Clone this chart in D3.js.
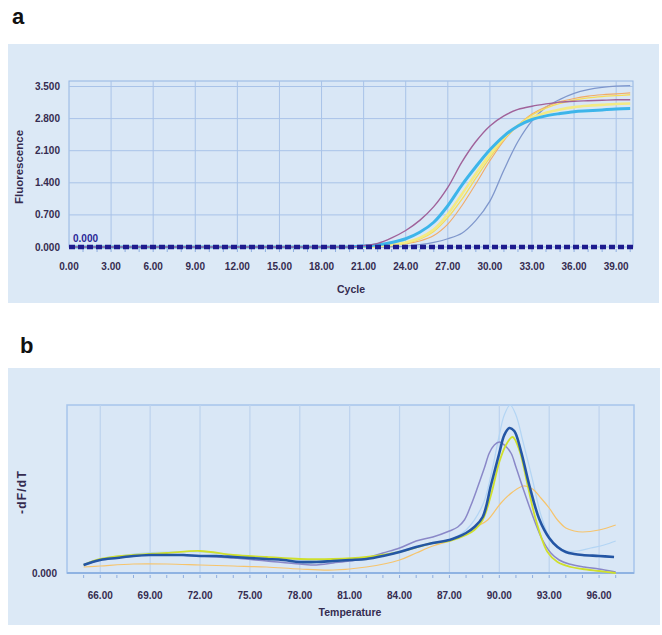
<!DOCTYPE html>
<html><head><meta charset="utf-8">
<script src="https://cdn.jsdelivr.net/npm/d3@7"></script>
<style>body{margin:0;background:#fff}svg{display:block}</style>
</head><body>
<script>
// ---------- Panel a: amplification curves ----------
const cycles = d3.range(0, 41);
const zeros21 = d3.range(21).map(() => 0);
const ampPurple   = zeros21.concat([0.03,0.08,0.20,0.36,0.58,0.88,1.30,1.85,2.30,2.64,2.86,3.00,3.07,3.12,3.16,3.18,3.19,3.20,3.21,3.21]);
const ampCyan     = zeros21.concat([0.02,0.05,0.10,0.18,0.32,0.54,0.90,1.35,1.75,2.12,2.42,2.64,2.78,2.86,2.91,2.95,2.97,2.99,3.01,3.02]);
const ampYellow   = zeros21.concat([0.01,0.02,0.05,0.10,0.20,0.38,0.72,1.15,1.60,2.02,2.38,2.65,2.82,2.93,3.00,3.05,3.08,3.10,3.12,3.13]);
const ampYellow2  = zeros21.concat([0.00,0.01,0.04,0.08,0.17,0.34,0.64,1.04,1.50,1.95,2.35,2.66,2.88,3.03,3.13,3.20,3.25,3.28,3.30,3.32]);
const ampOrange   = zeros21.concat([0.00,0.01,0.03,0.07,0.13,0.25,0.50,0.90,1.38,1.88,2.32,2.65,2.90,3.06,3.17,3.24,3.29,3.32,3.34,3.36]);
const ampBlueGray = zeros21.concat([0.00,0.005,0.01,0.02,0.05,0.10,0.18,0.30,0.58,1.00,1.68,2.30,2.75,3.05,3.22,3.35,3.43,3.48,3.51,3.52]);
const cycleTicks = [0,3,6,9,12,15,18,21,24,27,30,33,36,39];
const fluorTicks = [0,0.7,1.4,2.1,2.8,3.5];
const threshold = 0;

// ---------- Panel b: melt curves (-dF/dT, arbitrary units) ----------
const meltDarkBlueT = [65,66,67,68,69,70,71,72,73,74,75,76,77,78,79,80,81,82,83,84,85,86,87,87.5,88,88.5,89,89.5,90,90.3,90.6,90.9,91.3,91.8,92.4,93,93.5,94,94.5,95,96,96.9];
const meltDarkBlueV = [8,13,15,17,18,18,18,17,17,16,15,14,13,11,11,12,13,14,17,21,26,30,33,36,40,46,56,88,120,138,145,142,122,88,54,35,26,21,19,18,17,16];
const meltLightBlueT = [65,66,68,70,72,74,76,78,80,82,84,86,87,88,89,89.5,90,90.3,90.65,91,91.4,92,92.5,93,93.5,94,94.7,95.5,96.3,97];
const meltLightBlueV = [9,14,19,21,21,18,15,13,13,15,22,30,33,43,68,98,138,158,168,158,133,93,58,36,26,22,22,25,28,32];
const meltPurpleT = [65,66,68,70,72,74,76,78,79,80,81,82,83,84,85,86,87,87.5,87.9,88.3,88.7,89.1,89.4,89.7,90.0,90.3,90.7,91.0,91.4,92.1,92.6,93.1,93.6,94.2,95.1,96,97];
const meltPurpleV = [8,13,17,18,17,15,12,9,8,10,12,15,20,25,32,36,42,46,53,68,86,105,120,128,131,128,120,106,86,53,33,20,13,9,6,4,1];
const meltGreenT = [65,66,68,70,72,74,76,78,80,82,84,86,87,88,88.5,89,89.5,90,90.4,90.8,91.2,91.7,92.2,92.9,93.5,94.3,95,96,97];
const meltGreenV = [8,14,18,20,22,18,16,14,14,16,21,30,32,38,43,53,78,111,128,136,123,88,53,21,11,6,4,2,0];
const meltOrangeT = [65,66,68,70,72,74,76,78,80,82,84,85,86,87,88,88.7,89.3,90.1,90.8,91.45,92,92.5,93,93.5,94,94.5,95,96,97];
const meltOrangeV = [6,7,9,9,8,7,6,4,3,6,13,20,27,32,40,47,53,70,81,87,84,75,65,53,45,42,41,43,48];
const tempTicks = [66,69,72,75,78,81,84,87,90,93,96];
const minorTemp = d3.range(65, 98);

const W = 662, H = 635;
const svg = d3.select("body").append("svg").attr("width", W).attr("height", H);
const font = "'Liberation Sans', Arial, sans-serif";
const tickColor = "#352c50";
const gridColor = "#a9c3e8";
const borderColor = "#93b5e2";

// panel backgrounds
svg.append("rect").attr("x", 8).attr("y", 44).attr("width", 651).attr("height", 259).attr("fill", "#dce9f6");
svg.append("rect").attr("x", 8).attr("y", 368).attr("width", 652).attr("height", 257).attr("fill", "#dce9f6");

svg.append("text").attr("x", 12).attr("y", 24).attr("font-family", font).attr("font-weight", "bold")
  .attr("font-size", 22).attr("fill", "#111").text("a");
svg.append("text").attr("x", 20).attr("y", 353).attr("font-family", font).attr("font-weight", "bold")
  .attr("font-size", 22).attr("fill", "#111").text("b");

// ===== Panel a =====
const xA = d3.scaleLinear().domain([0, 40.2]).range([69, 633]);
const yA = d3.scaleLinear().domain([0, 3.62]).range([247, 81]);
const gA = svg.append("g");
gA.append("rect").attr("x", xA(0)).attr("y", yA(3.62)).attr("width", xA(40.2) - xA(0)).attr("height", yA(0) - yA(3.62))
  .attr("fill", "#d9e7f6").attr("stroke", borderColor).attr("stroke-width", 1);
gA.selectAll(".vg").data(cycleTicks.slice(1)).enter().append("line")
  .attr("x1", d => xA(d)).attr("x2", d => xA(d)).attr("y1", yA(3.62)).attr("y2", yA(0))
  .attr("stroke", gridColor).attr("stroke-width", 1);
gA.selectAll(".hg").data(fluorTicks.slice(1)).enter().append("line")
  .attr("x1", xA(0)).attr("x2", xA(40.2)).attr("y1", d => yA(d)).attr("y2", d => yA(d))
  .attr("stroke", gridColor).attr("stroke-width", 1);
gA.selectAll(".mt").data(d3.range(1, 41)).enter().append("line")
  .attr("x1", d => xA(d)).attr("x2", d => xA(d)).attr("y1", yA(0) + 2).attr("y2", yA(0) + 5)
  .attr("stroke", "#8eaee0").attr("stroke-width", 1);
gA.selectAll(".xl").data(cycleTicks).enter().append("text")
  .attr("x", d => xA(d)).attr("y", 270).attr("text-anchor", "middle")
  .attr("font-family", font).attr("font-weight", "bold").attr("font-size", 10).attr("fill", tickColor)
  .text(d => d3.format(".2f")(d));
gA.selectAll(".yl").data(fluorTicks).enter().append("text")
  .attr("x", 60).attr("y", d => yA(d) + 3.5).attr("text-anchor", "end")
  .attr("font-family", font).attr("font-weight", "bold").attr("font-size", 10).attr("fill", tickColor)
  .text(d => d3.format(".3f")(d));
gA.append("text").attr("transform", "translate(23,167) rotate(-90)").attr("text-anchor", "middle")
  .attr("font-family", font).attr("font-weight", "bold").attr("font-size", 11.5).attr("fill", tickColor).text("Fluorescence");
gA.append("text").attr("x", 351).attr("y", 293).attr("text-anchor", "middle")
  .attr("font-family", font).attr("font-weight", "bold").attr("font-size", 10.5).attr("fill", tickColor).text("Cycle");

const lineA = d3.line().x((d, i) => xA(cycles[i])).y(d => yA(d)).curve(d3.curveCatmullRom.alpha(0.5));
const ampSeries = [
  {v: ampBlueGray, c: "#7f97cc", w: 1.3},
  {v: ampOrange, c: "#f2aa66", w: 1.1},
  {v: ampYellow2, c: "#f6dc58", w: 1.3},
  {v: ampYellow, c: "#f3ea84", w: 2.6},
  {v: ampCyan, c: "#3db5ea", w: 3},
  {v: ampPurple, c: "#a0629a", w: 1.4}
];
gA.selectAll(".amp").data(ampSeries).enter().append("path")
  .attr("d", d => lineA(d.v)).attr("fill", "none").attr("stroke", d => d.c).attr("stroke-width", d => d.w);
gA.append("line").attr("x1", xA(0)).attr("x2", xA(40.2)).attr("y1", yA(threshold)).attr("y2", yA(threshold))
  .attr("stroke", "#1d1b8e").attr("stroke-width", 4.5).attr("stroke-dasharray", "6,3");
gA.append("text").attr("x", 73).attr("y", 242).attr("font-family", font).attr("font-weight", "bold")
  .attr("font-size", 10).attr("fill", "#2a2896").text(d3.format(".3f")(threshold));

// ===== Panel b =====
const xB = d3.scaleLinear().domain([64.0, 98.1]).range([67, 634]);
const yB = d3.scaleLinear().domain([0, 168]).range([573, 405]);
const gB = svg.append("g");
gB.append("rect").attr("x", xB(64)).attr("y", yB(168)).attr("width", xB(98.1) - xB(64)).attr("height", yB(0) - yB(168))
  .attr("fill", "#d9e7f6").attr("stroke", "#a6c5ec").attr("stroke-width", 1.5);
gB.selectAll(".vg").data(tempTicks).enter().append("line")
  .attr("x1", d => xB(d)).attr("x2", d => xB(d)).attr("y1", yB(168)).attr("y2", yB(0))
  .attr("stroke", "#bdd3ee").attr("stroke-width", 1.2);
gB.append("line").attr("x1", xB(64)).attr("x2", xB(98.1)).attr("y1", yB(0)).attr("y2", yB(0))
  .attr("stroke", "#8fb3e2").attr("stroke-width", 2);
gB.selectAll(".mt").data(minorTemp).enter().append("line")
  .attr("x1", d => xB(d)).attr("x2", d => xB(d)).attr("y1", yB(0) + 2).attr("y2", yB(0) + 5)
  .attr("stroke", "#8eaee0").attr("stroke-width", 1);
gB.selectAll(".xl").data(tempTicks).enter().append("text")
  .attr("x", d => xB(d)).attr("y", 599).attr("text-anchor", "middle")
  .attr("font-family", font).attr("font-weight", "bold").attr("font-size", 10).attr("fill", tickColor)
  .text(d => d3.format(".2f")(d));
gB.append("text").attr("x", 57).attr("y", yB(0) + 3.5).attr("text-anchor", "end")
  .attr("font-family", font).attr("font-weight", "bold").attr("font-size", 10).attr("fill", tickColor).text("0.000");
gB.append("text").attr("transform", "translate(26,492) rotate(-90)").attr("text-anchor", "middle")
  .attr("font-family", font).attr("font-weight", "bold").attr("font-size", 12).attr("letter-spacing", 1.2)
  .attr("fill", tickColor).text("-dF/dT");
gB.append("text").attr("x", 350).attr("y", 616).attr("text-anchor", "middle")
  .attr("font-family", font).attr("font-weight", "bold").attr("font-size", 10.5).attr("fill", tickColor).text("Temperature");

const meltSeries = [
  {t: meltLightBlueT, v: meltLightBlueV, c: "#b3d5f4", w: 1.2},
  {t: meltOrangeT, v: meltOrangeV, c: "#f6c46c", w: 1.2},
  {t: meltPurpleT, v: meltPurpleV, c: "#8a88c8", w: 1.5},
  {t: meltGreenT, v: meltGreenV, c: "#cfdf2c", w: 1.8},
  {t: meltDarkBlueT, v: meltDarkBlueV, c: "#2456a4", w: 2.6}
];
const lineB = d3.line().curve(d3.curveCatmullRom.alpha(0.5));
gB.selectAll(".melt").data(meltSeries).enter().append("path")
  .attr("d", s => lineB(s.t.map((t, i) => [xB(t), yB(s.v[i])])))
  .attr("fill", "none").attr("stroke", s => s.c).attr("stroke-width", s => s.w);
</script>
</body></html>
